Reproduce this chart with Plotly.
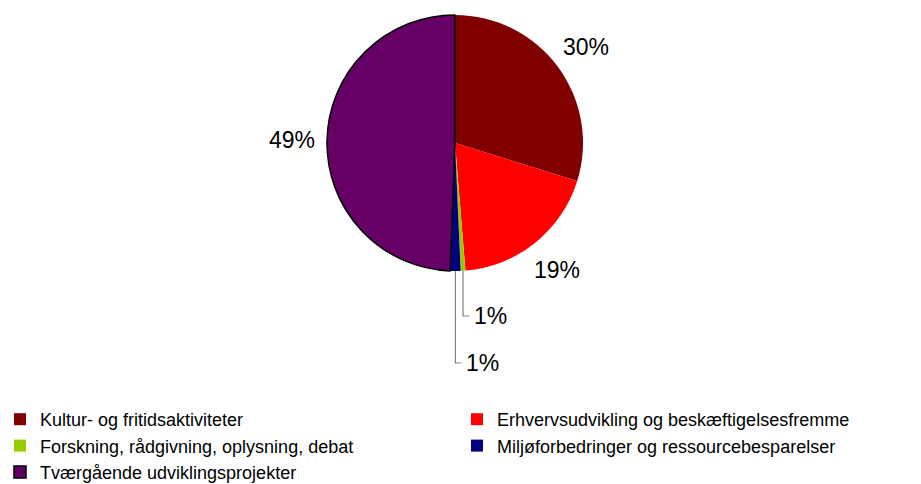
import math
import plotly.graph_objects as go

categories = [
    "Kultur- og fritidsaktiviteter",
    "Erhvervsudvikling og beskæftigelsesfremme",
    "Forskning, rådgivning, oplysning, debat",
    "Miljøforbedringer og ressourcebesparelser",
    "Tværgående udviklingsprojekter",
]
values = [29.8, 18.9, 0.6, 1.3, 49.4]
colors = ["#800000", "#FF0000", "#99CC00", "#000080", "#660066"]

W, H = 921, 484
CX, CY, R = 455, 143, 128
FONT = "Liberation Sans, Arial, sans-serif"

fig = go.Figure(go.Pie(
    labels=categories,
    values=values,
    sort=False,
    direction="clockwise",
    rotation=0,
    marker=dict(colors=colors,
                line=dict(color=["rgba(0,0,0,0)"] * 4 + ["#000000"],
                          width=[0, 0, 0, 0, 1.5])),
    textinfo="none",
    hoverinfo="label+percent",
    domain=dict(x=[(CX - R) / W, (CX + R) / W], y=[1 - (CY + R) / H, 1 - (CY - R) / H]),
))

def px2paper(x, y):
    return x / W, 1 - y / H

total = sum(values)
cum = 0
annotations = []
shapes = []
small_offsets = {2: 45, 3: 92}
for i, v in enumerate(values):
    mid = (cum + v / 2) / total * 2 * math.pi
    cum += v
    pct = f"{round(v / total * 100)}%"
    if i in small_offsets:
        ex = CX + R * math.sin(mid)
        ey = CY - R * math.cos(mid)
        ly = CY + R + small_offsets[i]
        x0, y0 = px2paper(ex, ey)
        x1, y1 = px2paper(ex, ly)
        x2, y2 = px2paper(ex + 6, ly)
        shapes.append(dict(type="path", xref="paper", yref="paper",
                           path=f"M {x0},{y0} L {x1},{y1} L {x2},{y2}",
                           line=dict(color="#808080", width=1.2)))
        ax, ay = px2paper(ex + 9, ly)
        annotations.append(dict(x=ax, y=ay, xref="paper", yref="paper", text=pct,
                                showarrow=False, xanchor="left", yanchor="middle",
                                font=dict(size=23, color="#000", family=FONT)))
    else:
        rr = R * 1.27
        lx = CX + rr * math.sin(mid)
        ly = CY - rr * math.cos(mid)
        ax, ay = px2paper(lx, ly)
        annotations.append(dict(x=ax, y=ay, xref="paper", yref="paper", text=pct,
                                showarrow=False, xanchor="center", yanchor="middle",
                                font=dict(size=23, color="#000", family=FONT)))

fig.update_layout(
    width=W, height=H,
    margin=dict(l=0, r=0, t=0, b=0, autoexpand=False),
    paper_bgcolor="white",
    plot_bgcolor="white",
    font=dict(family=FONT, color="#000"),
    showlegend=True,
    legend=dict(orientation="h", x=0, xanchor="left", y=1 - 401 / H, yanchor="top",
                entrywidth=412, entrywidthmode="pixels", itemwidth=30,
                font=dict(size=18, family=FONT, color="#000"),
                traceorder="normal", tracegroupgap=0),
    annotations=annotations,
    shapes=shapes,
)

fig.write_html("out.html", config={"displayModeBar": False},
               post_script="document.body.style.margin='0';document.body.style.overflow='hidden';")
